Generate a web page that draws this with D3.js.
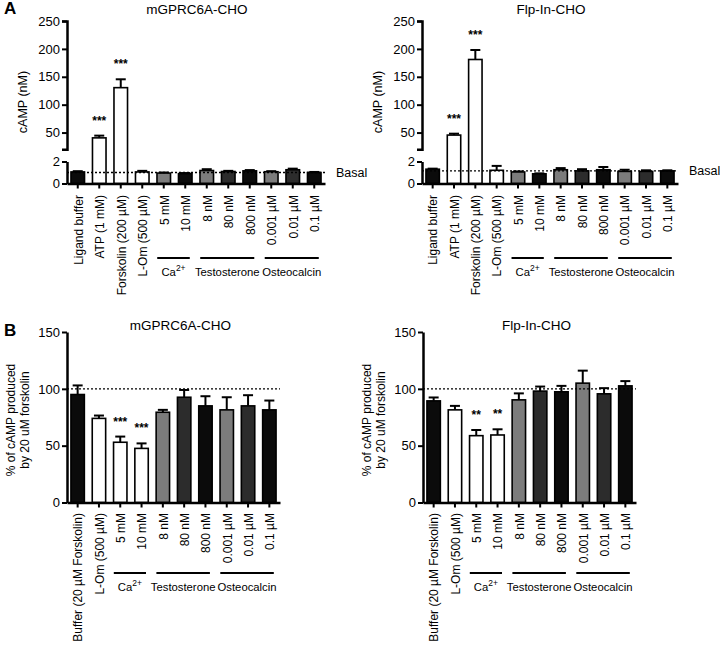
<!DOCTYPE html>
<html><head><meta charset="utf-8">
<script src="https://cdn.jsdelivr.net/npm/d3@7"></script>
<style>
body{margin:0;background:#fff;}
svg{font-family:"Liberation Sans",Arial,Helvetica,sans-serif;}
</style></head>
<body><svg id="c" width="720" height="646"></svg>
<script>
// ---------- DATA ----------
const topCategories = ["Ligand buffer","ATP (1 mM)","Forskolin (200 µM)","L-Om (500 µM)","5 mM","10 mM","8 nM","80 nM","800 nM","0.001 µM","0.01 µM","0.1 µM"];
const botCategories = ["Buffer (20 µM Forskolin)","L-Om (500 µM)","5 mM","10 mM","8 nM","80 nM","800 nM","0.001 µM","0.01 µM","0.1 µM"];
const groups = ["Ca2+","Testosterone","Osteocalcin"];
const groupMembers = [["5 mM","10 mM"],["8 nM","800 nM"],["0.001 µM","0.1 µM"]];
const panelTitles = ["mGPRC6A-CHO","Flp-In-CHO"];
const topTicksUpper = [50,100,150,200,250];
const topTicksLower = [0,2];
const botTicks = [0,50,100,150];

const mgTopMean = [1.05,40.5,130.5,1.05,0.95,0.9,1.18,1.09,1.15,1.07,1.25,1.0];
const mgTopErr  = [1.12,44.5,145.5,1.15,1.0,0.95,1.3,1.15,1.22,1.12,1.35,1.05];
const mgTopStars = ["","***","***","","","","","","","","",""];
const mgBasal = 1.0;

const flpTopMean = [1.3,45.5,181,1.2,1.05,0.88,1.25,1.15,1.25,1.1,1.1,1.15];
const flpTopErr  = [1.35,48,198,1.6,1.1,0.92,1.4,1.3,1.5,1.25,1.2,1.2];
const flpTopStars = ["","***","***","","","","","","","","",""];
const flpBasal = 1.15;

const mgBotMean = [95,74,53,47.6,79.4,92.6,85,81.5,85,81.5];
const mgBotErr  = [103,76.5,58,52,81.5,99,93.5,92.6,94.4,89.7];
const mgBotStars = ["","","***","***","","","","","",""];

const flpBotMean = [89.4,81.5,58.8,59.4,90.3,98,97.4,105,95.6,102.6];
const flpBotErr  = [92.4,85,63.8,64.4,96,102,102.6,116,100.6,106.8];
const flpBotStars = ["","","**","**","","","","","",""];
const refLine = 100;

// ---------- STYLE ----------
const K="#0b0b0b", W="#ffffff", G="#7c7c7c", D="#2c2c2c";
const topFills = [K,W,W,W,G,K,G,D,K,G,D,K];
const botFills = [K,W,W,W,G,D,K,G,D,K];

const svg = d3.select("#c");
const AX = 2.5;

function panelLetter(t,x,y){
  svg.append("text").attr("x",x).attr("y",y).attr("font-size",17).attr("font-weight","bold").text(t);
}
function title(t,x,y){
  svg.append("text").attr("x",x).attr("y",y).attr("text-anchor","middle").attr("font-size",13.5).text(t);
}
function styleAxis(g){
  g.selectAll(".domain").attr("stroke","#000").attr("stroke-width",AX);
  g.selectAll(".tick line").attr("stroke","#000").attr("stroke-width",2);
  g.selectAll(".tick text").attr("font-size",13).attr("fill","#000").attr("font-family","Liberation Sans, Arial, sans-serif");
}

function drawBars(g, cats, x, y, y0, mean, err, fills, stars){
  const bw = x.bandwidth();
  cats.forEach((c,i)=>{
    const cx = x(c)+bw/2;
    g.append("line").attr("x1",cx).attr("x2",cx).attr("y1",y(mean[i])).attr("y2",y(err[i])).attr("stroke","#000").attr("stroke-width",2);
    g.append("line").attr("x1",cx-5).attr("x2",cx+5).attr("y1",y(err[i])).attr("y2",y(err[i])).attr("stroke","#000").attr("stroke-width",2);
  });
  g.selectAll("rect.bar").data(cats).enter().append("rect")
    .attr("x",c=>x(c)+0.75).attr("width",bw-1.5)
    .attr("y",(c,i)=>y(mean[i])).attr("height",(c,i)=>y0-y(mean[i]))
    .attr("fill",(c,i)=>fills[i]).attr("stroke","#000").attr("stroke-width",1.6);
  cats.forEach((c,i)=>{
    if(stars[i]) g.append("text").attr("x",x(c)+bw/2).attr("y",y(err[i])-11)
      .attr("text-anchor","middle").attr("font-size",12).attr("font-weight","bold").text(stars[i]);
  });
}

function xLabels(cats, x, yStart){
  const bw=x.bandwidth();
  cats.forEach(c=>{
    svg.append("text").attr("transform",`translate(${x(c)+bw/2+0.5},${yStart}) rotate(-90)`)
      .attr("text-anchor","end").attr("dy","0.36em").attr("font-size",12).text(c);
  });
}
function groupLabels(members, x, yLine){
  const bw=x.bandwidth();
  members.forEach((m,i)=>{
    const x1 = x(m[0])+1, x2 = x(m[1])+bw-3;
    svg.append("line").attr("x1",x1).attr("x2",x2).attr("y1",yLine).attr("y2",yLine).attr("stroke","#000").attr("stroke-width",2);
    const t = svg.append("text").attr("x",(x1+x2)/2).attr("y",yLine+18).attr("text-anchor","middle").attr("font-size",11.3);
    if(groups[i]==="Ca2+"){ t.append("tspan").text("Ca"); t.append("tspan").attr("dy",-5).attr("font-size",8.5).text("2+"); }
    else t.text(groups[i]);
  });
}

// ---------- TOP PANELS ----------
function topPanel(ax, xEnd, mean, err, stars, basal, ttl, ylabX){
  const yU = d3.scaleLinear().domain([20,250]).range([149.3,21]);
  const yL = d3.scaleLinear().domain([0,2]).range([183.5,161.5]);
  const y = v => v<=2 ? yL(v) : yU(Math.max(v,20));
  const x = d3.scaleBand().domain(topCategories).range([ax,xEnd]).paddingInner(0.3).paddingOuter(0.15);
  const g = svg.append("g");
  drawBars(g, topCategories, x, y, yL(0), mean, err, topFills, stars);
  g.append("line").attr("x1",ax).attr("x2",xEnd).attr("y1",yL(basal)).attr("y2",yL(basal))
    .attr("stroke","#000").attr("stroke-width",1.4).attr("stroke-dasharray","2,2");
  svg.append("text").attr("x",xEnd+11).attr("y",yL(basal)+4.5).attr("font-size",12.5).text("Basal");
  const gu = svg.append("g").attr("transform",`translate(${ax},0)`).call(d3.axisLeft(yU).tickValues(topTicksUpper).tickFormat(d3.format("d")).tickSize(5).tickSizeOuter(5).tickPadding(2));
  styleAxis(gu);
  const gl = svg.append("g").attr("transform",`translate(${ax},0)`).call(d3.axisLeft(yL).tickValues(topTicksLower).tickFormat(d3.format("d")).tickSize(5).tickSizeOuter(0).tickPadding(2));
  styleAxis(gl);
  const gx = svg.append("g").attr("transform",`translate(0,${yL(0)})`).call(d3.axisBottom(x).tickSize(5).tickSizeOuter(0).tickFormat(""));
  styleAxis(gx);
  title(ttl,(ax+xEnd)/2+1,14);
  svg.append("text").attr("transform",`translate(${ylabX},102) rotate(-90)`).attr("text-anchor","middle").attr("font-size",12.5).text("cAMP (nM)");
  xLabels(topCategories, x, 195);
  groupLabels(groupMembers, x, 258);
}
topPanel(67, 325, mgTopMean, mgTopErr, mgTopStars, mgBasal, panelTitles[0], 27);
topPanel(422, 678, flpTopMean, flpTopErr, flpTopStars, flpBasal, panelTitles[1], 382);

// ---------- BOTTOM PANELS ----------
function botPanel(ax, xEnd, mean, err, stars, ttl, labX){
  const y = d3.scaleLinear().domain([0,150]).range([502.5,332]);
  const x = d3.scaleBand().domain(botCategories).range([ax,xEnd]).paddingInner(0.3).paddingOuter(0.15);
  const g = svg.append("g");
  drawBars(g, botCategories, x, y, y(0), mean, err, botFills, stars);
  g.append("line").attr("x1",ax).attr("x2",xEnd).attr("y1",y(refLine)).attr("y2",y(refLine))
    .attr("stroke","#000").attr("stroke-width",1.4).attr("stroke-dasharray","2,2");
  const gy = svg.append("g").attr("transform",`translate(${ax},0)`).call(d3.axisLeft(y).tickValues(botTicks).tickFormat(d3.format("d")).tickSize(5).tickSizeOuter(0).tickPadding(2));
  styleAxis(gy);
  const gx = svg.append("g").attr("transform",`translate(0,${y(0)})`).call(d3.axisBottom(x).tickSize(5).tickSizeOuter(0).tickFormat(""));
  styleAxis(gx);
  title(ttl,(ax+xEnd)/2+7,330);
  const t = svg.append("text").attr("transform",`translate(${labX},420) rotate(-90)`).attr("text-anchor","middle").attr("font-size",12);
  t.append("tspan").attr("x",0).attr("dy",0).text("% of cAMP produced");
  t.append("tspan").attr("x",0).attr("dy",14).text("by 20 uM forskolin");
  xLabels(botCategories, x, 513);
  groupLabels(groupMembers, x, 573);
}
botPanel(67, 280, mgBotMean, mgBotErr, mgBotStars, panelTitles[0], 15);
botPanel(423, 636, flpBotMean, flpBotErr, flpBotStars, panelTitles[1], 371);

panelLetter("A",4,14);
panelLetter("B",4,336);
</script></body></html>
